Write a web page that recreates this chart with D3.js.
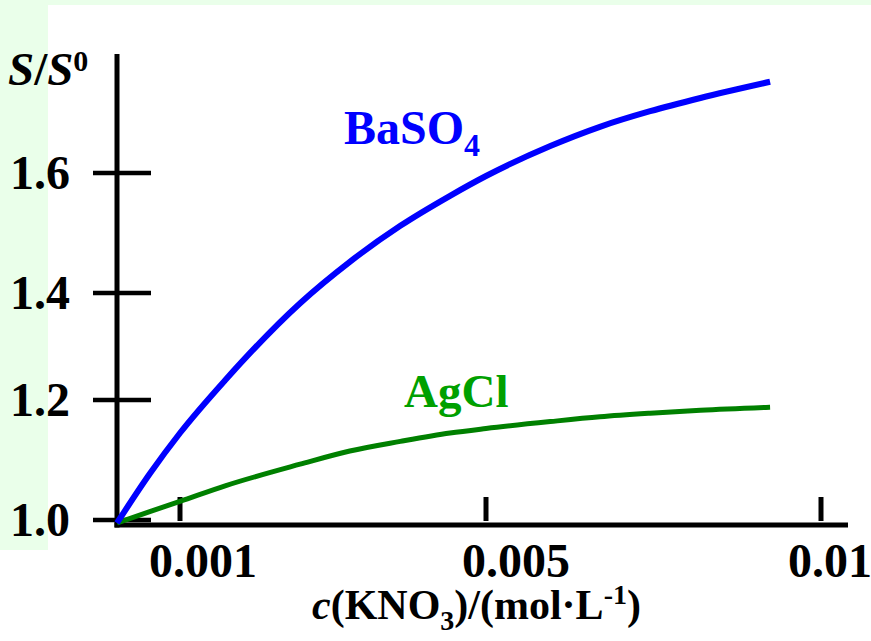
<!DOCTYPE html>
<html>
<head>
<meta charset="utf-8">
<script src="https://cdn.jsdelivr.net/npm/d3@7"></script>
<style>
html,body{margin:0;padding:0;background:#fff;}
svg{display:block;}
text{font-family:"Liberation Serif","Times New Roman",serif;font-weight:bold;}
</style>
</head>
<body>
<svg id="chart" width="871" height="641"></svg>
<script>
// ---- data ----
const concentration = [0, 0.00052, 0.001, 0.00159, 0.00257, 0.00322, 0.00388, 0.00453, 0.005, 0.00596, 0.0067, 0.00745, 0.0082, 0.00924];
const baso4 = [0.995, 1.077, 1.145, 1.237, 1.381, 1.452, 1.512, 1.562, 1.595, 1.645, 1.677, 1.703, 1.725, 1.752];
const agcl  = [0.995, 1.014, 1.031, 1.057, 1.093, 1.115, 1.131, 1.145, 1.1525, 1.164, 1.172, 1.178, 1.183, 1.188];
const xTickValues = [0.001, 0.005, 0.01];
const xTickLabels = ["0.001", "0.005", "0.01"];
const yTickValues = [1.0, 1.2, 1.4, 1.6];
const yTickLabels = ["1.0", "1.2", "1.4", "1.6"];
const seriesNames = ["BaSO", "AgCl"];

// ---- layout ----
const svg = d3.select("#chart");
const W = 871, H = 641;
const xLabelShift = [23, 30, 9]; // label offsets relative to ticks (layout)

// background frame
svg.append("rect").attr("x",0).attr("y",0).attr("width",W).attr("height",H).attr("fill","#ffffff");
svg.append("rect").attr("x",0).attr("y",0).attr("width",W).attr("height",5).attr("fill","#eaffea");
svg.append("rect").attr("x",0).attr("y",0).attr("width",48).attr("height",550).attr("fill","#eaffea");

// piecewise (non-uniform) scales as drawn in the original
const x = d3.scaleLinear().domain([0, 0.001, 0.005, 0.01]).range([117, 180, 486, 821]);
const y = d3.scaleLinear().domain([1.0, 1.2, 1.4, 1.6]).range([520, 400, 293, 173]);

const axisY = y(1.0) + 5;

// y axis line
svg.append("line").attr("x1",x(0)).attr("x2",x(0)).attr("y1",54).attr("y2",axisY+2.5)
  .attr("stroke","#000").attr("stroke-width",5);
// x axis line
svg.append("line").attr("x1",x(0)-2.5).attr("x2",848).attr("y1",axisY).attr("y2",axisY)
  .attr("stroke","#000").attr("stroke-width",5);

// y ticks
svg.selectAll(".ytick").data(yTickValues).enter().append("line")
  .attr("x1",93).attr("x2",151).attr("y1",d=>y(d)).attr("y2",d=>y(d))
  .attr("stroke","#000").attr("stroke-width",4.5);
svg.selectAll(".ylab").data(yTickValues).enter().append("text")
  .attr("x",70).attr("y",d=>y(d)+16).attr("text-anchor","end")
  .attr("font-size",48).attr("fill","#000")
  .text((d,i)=>yTickLabels[i]);

// x ticks
svg.selectAll(".xtick").data(xTickValues).enter().append("line")
  .attr("x1",d=>x(d)).attr("x2",d=>x(d)).attr("y1",497).attr("y2",521)
  .attr("stroke","#000").attr("stroke-width",5);
svg.selectAll(".xlab").data(xTickValues).enter().append("text")
  .attr("x",(d,i)=>x(d)+xLabelShift[i]).attr("y",577).attr("text-anchor","middle")
  .attr("font-size",48).attr("fill","#000")
  .text((d,i)=>xTickLabels[i]);

// y axis title S/S0
const yt = svg.append("text").attr("x",8).attr("y",85).attr("font-size",47).attr("fill","#000");
yt.append("tspan").attr("font-style","italic").text("S");
yt.append("tspan").text("/");
yt.append("tspan").attr("font-style","italic").text("S");
yt.append("tspan").attr("font-size",30).attr("dy",-14).text("0");

// x axis title
const xt = svg.append("text").attr("x",312).attr("y",619).attr("font-size",42).attr("fill","#000");
xt.append("tspan").attr("font-style","italic").text("c");
xt.append("tspan").text("(KNO");
xt.append("tspan").attr("font-size",28).attr("dy",11).text("3");
xt.append("tspan").attr("dy",-11).text(")/(mol·L");
xt.append("tspan").attr("font-size",28).attr("dy",-15).text("-1");
xt.append("tspan").attr("dy",15).text(")");

// curves
const line = d3.line().x((d,i)=>x(concentration[i])).y(d=>y(d)).curve(d3.curveMonotoneX);
svg.append("path").datum(agcl).attr("d",line).attr("fill","none")
  .attr("stroke","#008000").attr("stroke-width",5);
svg.append("path").datum(baso4).attr("d",line).attr("fill","none")
  .attr("stroke","#0000ff").attr("stroke-width",6);

// series labels
const bl = svg.append("text").attr("x",344).attr("y",144).attr("font-size",48).attr("fill","#0000ff");
bl.append("tspan").text(seriesNames[0]);
bl.append("tspan").attr("font-size",32).attr("dy",12).text("4");

svg.append("text").attr("x",404).attr("y",407).attr("font-size",47).attr("fill","#00a000")
  .text(seriesNames[1]);
</script>
</body>
</html>
